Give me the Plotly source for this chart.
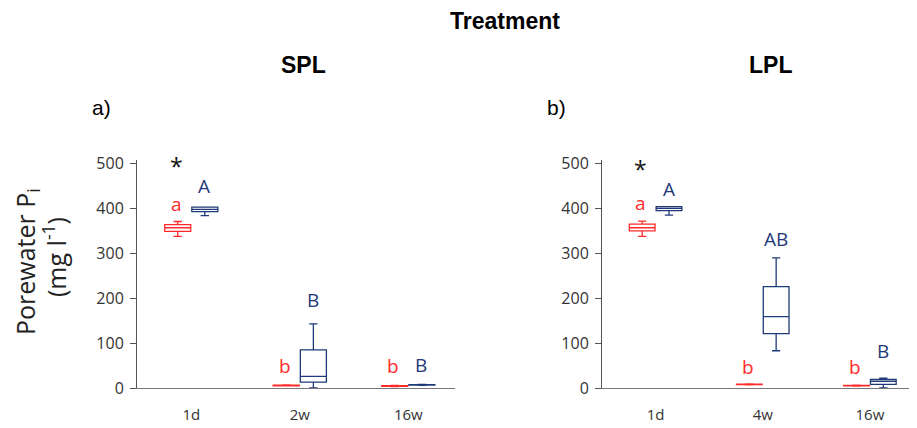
import plotly.graph_objects as go

# ---- data ----
cats_spl = ["1d", "2w", "16w"]
cats_lpl = ["1d", "4w", "16w"]
y_ticks = [0, 100, 200, 300, 400, 500]

# SPL (panel a) - red series
spl_red_low = [338, 5, 3]
spl_red_q1 = [349, 5, 3.5]
spl_red_med = [357, 6, 4.5]
spl_red_q3 = [364, 6.5, 5.5]
spl_red_high = [371, 7, 6]
# SPL - blue series
spl_blue_low = [384, 0, 6]
spl_blue_q1 = [393, 13, 6.5]
spl_blue_med = [398, 26, 7]
spl_blue_q3 = [403, 85, 7.5]
spl_blue_high = [403, 143, 8]

# LPL (panel b) - red series
lpl_red_low = [338, 7, 4.5]
lpl_red_q1 = [350, 7.5, 5]
lpl_red_med = [357, 8, 5.5]
lpl_red_q3 = [365, 8.5, 6]
lpl_red_high = [372, 9, 6.5]
# LPL - blue series
lpl_blue_low = [385, 83, 0]
lpl_blue_q1 = [395, 121, 8]
lpl_blue_med = [400, 159, 15]
lpl_blue_q3 = [404, 226, 19]
lpl_blue_high = [404, 290, 22]

# significance letters: (category, series, label, y)
spl_letters = [("1d", "red", "a", 411), ("1d", "blue", "A", 449), ("1d", "star", "*", 494),
               ("2w", "red", "b", 49), ("2w", "blue", "B", 196),
               ("16w", "red", "b", 49), ("16w", "blue", "B", 51)]
lpl_letters = [("1d", "red", "a", 413), ("1d", "blue", "A", 444), ("1d", "star", "*", 489),
               ("4w", "red", "b", 47), ("4w", "blue", "AB", 333),
               ("16w", "red", "b", 47), ("16w", "blue", "B", 83)]

RED = "#FF2B2B"
BLUE = "#1F3A78"
TICK_FONT = "Open Sans"
TITLE_FONT = "Liberation Sans"

# page has an 8px body margin: figure drawn shifted so it lines up with the window
OFF = 8
W, H = 909, 420


def px(x):
    return (x - OFF) / W


def py(y):
    return 1 - (y - OFF) / H


fig = go.Figure()


def add_box(cats, low, q1, med, q3, high, color, name, xa, ya):
    fig.add_trace(go.Box(
        x=cats, lowerfence=low, q1=q1, median=med, q3=q3, upperfence=high,
        name=name, offsetgroup=name, line=dict(color=color, width=1.3),
        fillcolor="rgba(0,0,0,0)", whiskerwidth=0.32, boxpoints=False,
        xaxis=xa, yaxis=ya, showlegend=False, hoverinfo="skip"))


add_box(cats_spl, spl_red_low, spl_red_q1, spl_red_med, spl_red_q3, spl_red_high, RED, "red", "x", "y")
add_box(cats_spl, spl_blue_low, spl_blue_q1, spl_blue_med, spl_blue_q3, spl_blue_high, BLUE, "blue", "x", "y")
add_box(cats_lpl, lpl_red_low, lpl_red_q1, lpl_red_med, lpl_red_q3, lpl_red_high, RED, "red", "x2", "y2")
add_box(cats_lpl, lpl_blue_low, lpl_blue_q1, lpl_blue_med, lpl_blue_q3, lpl_blue_high, BLUE, "blue", "x2", "y2")

annotations = []
shift = {"red": -15, "blue": 13, "star": -15}
colors = {"red": RED, "blue": BLUE, "star": "#111111"}
for letters, xr, yr in [(spl_letters, "x", "y"), (lpl_letters, "x2", "y2")]:
    for cat, ser, lab, yv in letters:
        annotations.append(dict(x=cat, y=yv, xref=xr, yref=yr, text=lab, showarrow=False,
                                xshift=shift[ser],
                                font=dict(family=TICK_FONT, size=23 if ser == "star" else 19,
                                          color=colors[ser])))


def label(x, y, text, size, family=TITLE_FONT, angle=0, color="#000000"):
    return dict(x=px(x), y=py(y), xref="paper", yref="paper", text=text, showarrow=False,
                xanchor="center", yanchor="middle", textangle=angle,
                font=dict(family=family, size=size, color=color))


annotations += [
    label(505, 21, "<b>Treatment</b>", 23),
    label(303, 65, "<b>SPL</b>", 23),
    label(770, 65, "<b>LPL</b>", 23),
    label(101, 107, "a)", 21),
    label(556, 107, "b)", 21),
    label(27, 262, "Porewater P<sub>i</sub>", 25, TICK_FONT, -90, "#222222"),
    label(54, 257, "(mg l<sup>-1</sup>)", 25, TICK_FONT, -90, "#222222"),
]

yax = dict(range=[0, 508], tickvals=y_ticks, showgrid=False, zeroline=False, automargin=False,
           showline=True, linecolor="#555555", linewidth=1, ticks="outside", ticklen=6,
           tickcolor="#555555", ticklabelstandoff=3,
           tickfont=dict(family=TICK_FONT, size=16, color="#333333"),
           domain=[py(388), py(160)])
xax = dict(range=[-0.5, 2.43], showgrid=False, zeroline=False, showline=True, automargin=False,
           linecolor="#777777", linewidth=1, ticks="", ticklabelstandoff=13,
           tickfont=dict(family=TICK_FONT, size=15, color="#333333"))

fig.update_layout(
    width=W, height=H, margin=dict(l=0, r=0, t=0, b=0, pad=0), autosize=False,
    paper_bgcolor="white", plot_bgcolor="white",
    boxmode="group", boxgap=0.5, boxgroupgap=0.04,
    xaxis=dict(xax, domain=[px(137), px(455)], anchor="y", categoryorder="array", categoryarray=cats_spl),
    yaxis=dict(yax, anchor="x"),
    xaxis2=dict(xax, domain=[px(602), min(1.0, px(916))], anchor="y2", categoryorder="array", categoryarray=cats_lpl),
    yaxis2=dict(yax, anchor="x2"),
    annotations=annotations,
)

fig.write_html("out.html")
